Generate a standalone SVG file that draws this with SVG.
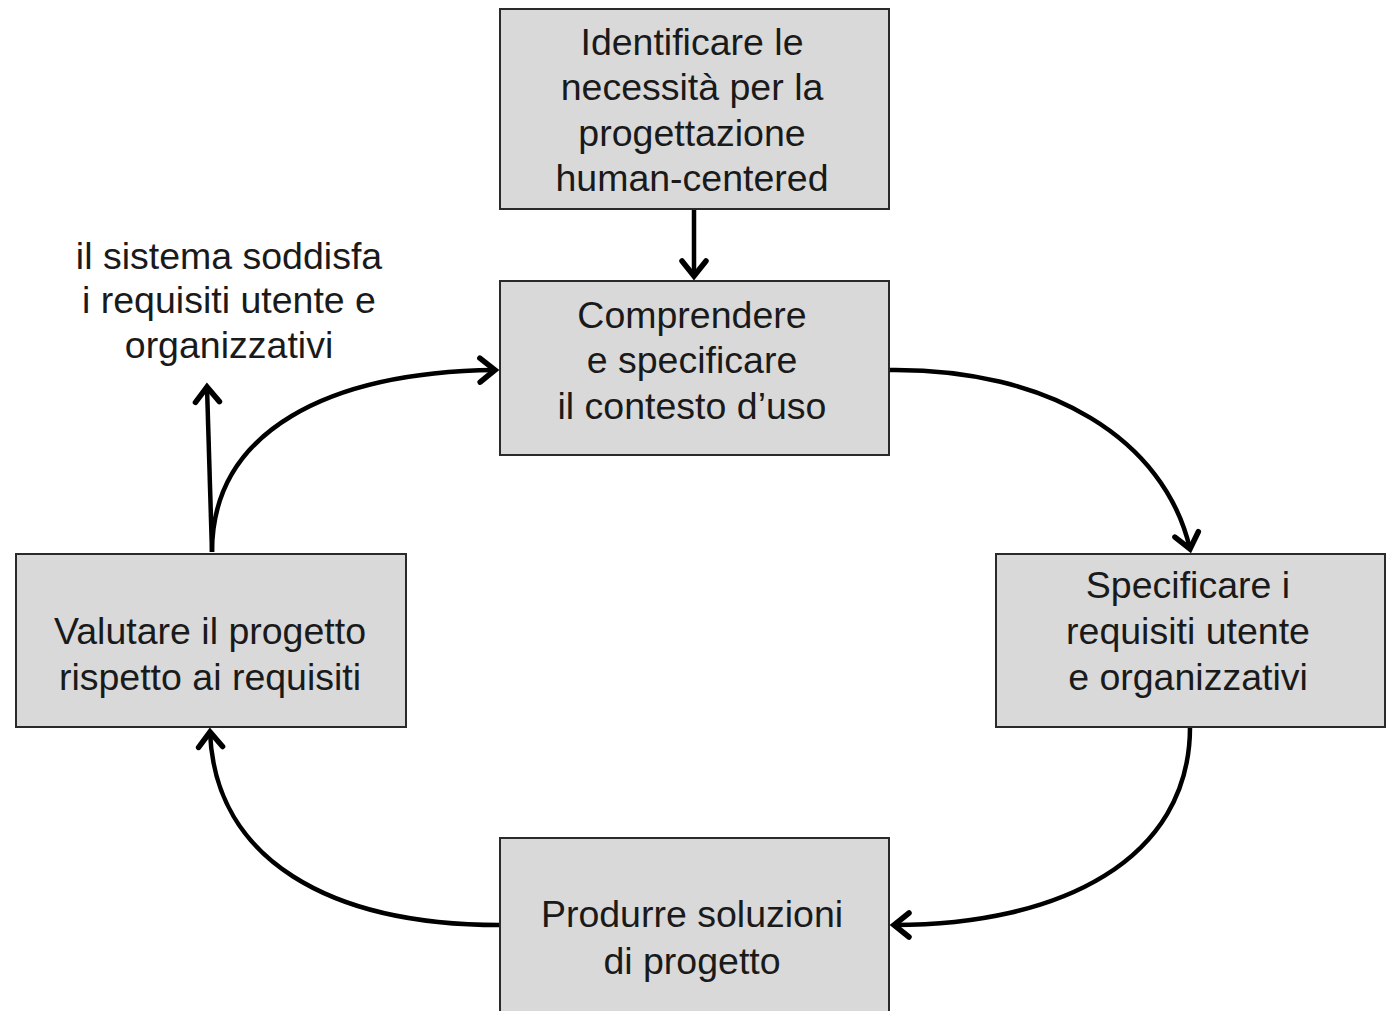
<svg xmlns="http://www.w3.org/2000/svg" width="1396" height="1011" viewBox="0 0 1396 1011">
<style>
.box{fill:#d9d9d9;stroke:#2a2a2a;stroke-width:2}
.t{font-family:"Liberation Sans",Arial,sans-serif;font-size:37.5px;fill:#1a1a1a;text-anchor:middle}
.c{fill:none;stroke:#000;stroke-width:4.5}
</style>
<defs>
<marker id="ah" markerUnits="userSpaceOnUse" markerWidth="30" markerHeight="34" refX="20" refY="15" orient="auto" viewBox="0 0 30 30">
<path d="M5,3 L20,15 L5,27" fill="none" stroke="#000" stroke-width="5.5" stroke-linecap="round" stroke-linejoin="miter"/>
</marker>
</defs>
<rect width="1396" height="1011" fill="#fff"/>
<g id="connectors">
<path class="c" d="M694,209 L694,276" marker-end="url(#ah)"/>
<path class="c" d="M889,370 C1050,368 1165,440 1190,549" marker-end="url(#ah)"/>
<path class="c" d="M1190,727 C1190,860 1060,925 894,925" marker-end="url(#ah)"/>
<path class="c" d="M500,925 C330,925 215,860 210,732" marker-end="url(#ah)"/>
<path class="c" d="M212,552 C212,430 330,372 495,370" marker-end="url(#ah)"/>
<path class="c" d="M212,552 L207,387" marker-end="url(#ah)"/>
</g>
<g id="n1"><rect class="box" x="500" y="9" width="389" height="200"/>
<text class="t"><tspan x="692" y="55">Identificare le</tspan><tspan x="692" y="100">necessità per la</tspan><tspan x="692" y="146">progettazione</tspan><tspan x="692" y="191">human-centered</tspan></text></g>
<g id="n2"><rect class="box" x="500" y="281" width="389" height="174"/>
<text class="t"><tspan x="692" y="328">Comprendere</tspan><tspan x="692" y="373">e specificare</tspan><tspan x="692" y="419">il contesto d’uso</tspan></text></g>
<g id="n3"><rect class="box" x="996" y="554" width="389" height="173"/>
<text class="t"><tspan x="1188" y="598">Specificare i</tspan><tspan x="1188" y="644">requisiti utente</tspan><tspan x="1188" y="690">e organizzativi</tspan></text></g>
<g id="n4"><rect class="box" x="500" y="838" width="389" height="180"/>
<text class="t"><tspan x="692" y="927">Produrre soluzioni</tspan><tspan x="692" y="974">di progetto</tspan></text></g>
<g id="n5"><rect class="box" x="16" y="554" width="390" height="173"/>
<text class="t"><tspan x="210" y="644">Valutare il progetto</tspan><tspan x="210" y="690">rispetto ai requisiti</tspan></text></g>
<g id="n6">
<text class="t"><tspan x="229" y="269">il sistema soddisfa</tspan><tspan x="229" y="313">i requisiti utente e</tspan><tspan x="229" y="358">organizzativi</tspan></text></g>
</svg>
